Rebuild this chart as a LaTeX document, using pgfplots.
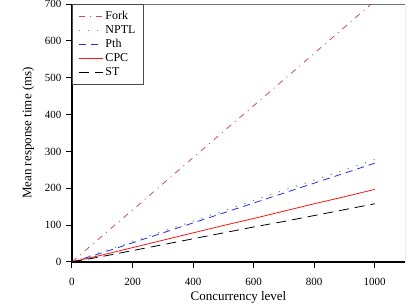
\documentclass[border=0pt]{standalone}
\usepackage{pgfplots}
\pgfplotsset{compat=1.18}
\usepackage{fontspec}
\setmainfont{Liberation Serif}
\definecolor{forkc}{RGB}{200,80,80}
\definecolor{nptlc}{RGB}{70,170,70}
\definecolor{pthc}{RGB}{40,40,240}
\definecolor{cpcc}{RGB}{250,20,20}
\begin{document}
\begin{tikzpicture}
\begin{axis}[
  name=ax,
  scale only axis,
  width=333pt, height=258pt,
  xmin=0, xmax=1100, ymin=0, ymax=700,
  axis x line*=bottom, axis y line*=left,
  axis line style={black, line width=1.2pt, -},
  xtick={0,200,400,600,800,1000},
  ytick={0,100,200,300,400,500,600,700},
  tick align=outside,
  major tick length=6pt,
  tick style={black, line width=1pt},
  /pgf/number format/assume math mode=true,
  /pgf/number format/1000 sep={},
  ticklabel style={font=\fontsize{11}{13}\selectfont},
  xticklabel style={yshift=-7pt},
  yticklabel style={xshift=-1pt},
  xlabel={Concurrency level},
  ylabel={Mean response time (ms)},
  label style={font=\fontsize{13}{15}\selectfont},
  xlabel style={yshift=1pt},
  ylabel style={yshift=4pt},
  legend style={at={(0,1)}, anchor=north west, draw=black!70, line width=0.8pt,
    font=\fontsize{12}{14}\selectfont, row sep=0.5pt, inner xsep=6pt, inner ysep=5pt},
  legend image code/.code={\path (0pt,0pt) -- (24pt,0pt); \draw[#1] (0pt,0pt) -- (13pt,0pt);},
  legend cell align=left,
  clip=true,
]
\addplot[forkc, line width=0.8pt, dash pattern=on 6pt off 5pt on 1pt off 5pt] coordinates {
(0,0) (100,71) (200,141) (300,212) (400,283) (500,354) (600,424) (700,495) (800,566) (900,637) (1000,708)};
\addlegendentry{Fork}
\addplot[nptlc, line width=1.1pt, dash pattern=on 1.1pt off 8pt] coordinates {
(0,0) (100,28) (200,56) (300,83) (400,111) (500,139) (600,167) (700,195) (800,222) (900,250) (1000,278)};
\addlegendentry{NPTL}
\addplot[pthc, line width=0.8pt, dash pattern=on 7pt off 5pt] coordinates {
(0,0) (100,25) (200,52) (300,79) (400,106) (500,133) (600,160) (700,187) (800,214) (900,241) (1000,268)};
\addlegendentry{Pth}
\addplot[cpcc, line width=0.8pt] coordinates {
(0,0) (100,19) (200,39) (300,59) (400,79) (500,99) (600,118) (700,138) (800,158) (900,177) (1000,197)};
\addlegendentry{CPC}
\addplot[black, line width=0.8pt, dash pattern=on 10pt off 6pt] coordinates {
(0,0) (100,15) (200,31) (300,47) (400,63) (500,79) (600,95) (700,110) (800,126) (900,142) (1000,158)};
\addlegendentry{ST}
\draw[black!55, line width=0.8pt] (rel axis cs:0,1) -- (rel axis cs:1,1) -- (rel axis cs:1,0);
\end{axis}
\pgfresetboundingbox
\path ([shift={(-72pt,-45pt)}]ax.south west) rectangle ([shift={(4pt,4pt)}]ax.north east);
\end{tikzpicture}
\end{document}
